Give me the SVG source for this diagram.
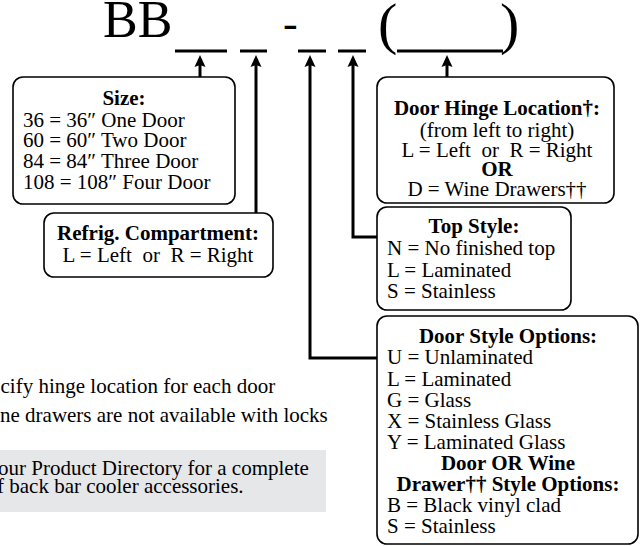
<svg xmlns="http://www.w3.org/2000/svg" width="640" height="546" viewBox="0 0 640 546">
<defs>
<style>
text{font-family:"Liberation Serif","Times New Roman",serif;font-size:21px;fill:#000}
.b{font-weight:bold}
.c{text-anchor:middle}
.box{fill:#fff;stroke:#000;stroke-width:1.6}
.con{fill:none;stroke:#000;stroke-width:3}
.ul{stroke:#000;stroke-width:3}
</style>
<marker id="ah" markerUnits="userSpaceOnUse" viewBox="0 0 12 12" markerWidth="12" markerHeight="12" refX="2" refY="6" orient="auto">
<path d="M0,0.5 L12,6 L0,11.5 L2,6 Z" fill="#000"/>
</marker>
</defs>
<rect width="640" height="546" fill="#fff"/>
<g id="code">
<text x="103" y="37" style="font-size:52px">BB</text>
<text x="283" y="38" style="font-size:44px">-</text>
<text x="378" y="43" style="font-size:58px">(</text>
<text x="500" y="43" style="font-size:58px">)</text>
<line class="ul" x1="175" y1="51" x2="227" y2="51"/>
<line class="ul" x1="240" y1="51" x2="267" y2="51"/>
<line class="ul" x1="298" y1="51" x2="326" y2="51"/>
<line class="ul" x1="338" y1="51" x2="366" y2="51"/>
<line class="ul" x1="397" y1="51" x2="503" y2="51"/>
</g>
<g id="connectors">
<path class="con" d="M200,77 V65" marker-end="url(#ah)"/>
<path class="con" d="M256,213 V65" marker-end="url(#ah)"/>
<path class="con" d="M377,358 H310 V65" marker-end="url(#ah)"/>
<path class="con" d="M377,237 H353 V65" marker-end="url(#ah)"/>
<path class="con" d="M447,77 V65" marker-end="url(#ah)"/>
</g>
<g id="size">
<rect class="box" x="13" y="77" width="222" height="127" rx="10"/>
<text class="b c" x="124" y="105">Size:</text>
<text x="23" y="127">36 = 36″ One Door</text>
<text x="23" y="147">60 = 60″ Two Door</text>
<text x="23" y="168">84 = 84″ Three Door</text>
<text x="23" y="189">108 = 108″ Four Door</text>
</g>
<g id="refrig">
<rect class="box" x="44" y="213" width="229" height="64" rx="10"/>
<text class="b c" x="158" y="240">Refrig. Compartment:</text>
<text class="c" x="158" y="262" xml:space="preserve">L = Left  or  R = Right</text>
</g>
<g id="hinge">
<rect class="box" x="377" y="77" width="237" height="126" rx="10"/>
<text class="b c" x="497" y="115">Door Hinge Location†:</text>
<text class="c" x="497" y="137">(from left to right)</text>
<text class="c" x="497" y="157" xml:space="preserve">L = Left  or  R = Right</text>
<text class="b c" x="497" y="176">OR</text>
<text class="c" x="497" y="196">D = Wine Drawers††</text>
</g>
<g id="topstyle">
<rect class="box" x="377" y="207" width="194" height="103" rx="10"/>
<text class="b c" x="474" y="233">Top Style:</text>
<text x="387" y="255">N = No finished top</text>
<text x="387" y="277">L = Laminated</text>
<text x="387" y="298">S = Stainless</text>
</g>
<g id="doorstyle">
<rect class="box" x="377" y="316" width="261" height="228" rx="10"/>
<text class="b c" x="508" y="343">Door Style Options:</text>
<text x="387" y="364">U = Unlaminated</text>
<text x="387" y="386">L = Laminated</text>
<text x="387" y="407">G = Glass</text>
<text x="387" y="428">X = Stainless Glass</text>
<text x="387" y="449">Y = Laminated Glass</text>
<text class="b c" x="508" y="470">Door OR Wine</text>
<text class="b c" x="508" y="491">Drawer†† Style Options:</text>
<text x="387" y="512">B = Black vinyl clad</text>
<text x="387" y="533">S = Stainless</text>
</g>
<g id="notes">
<text x="0.5" y="393">cify hinge location for each door</text>
<text x="0" y="422">ne drawers are not available with locks</text>
<rect x="0" y="450" width="326" height="62" fill="#e6e7e8"/>
<text x="-2" y="475">our Product Directory for a complete</text>
<text x="-3" y="493">f back bar cooler accessories.</text>
</g>
</svg>
